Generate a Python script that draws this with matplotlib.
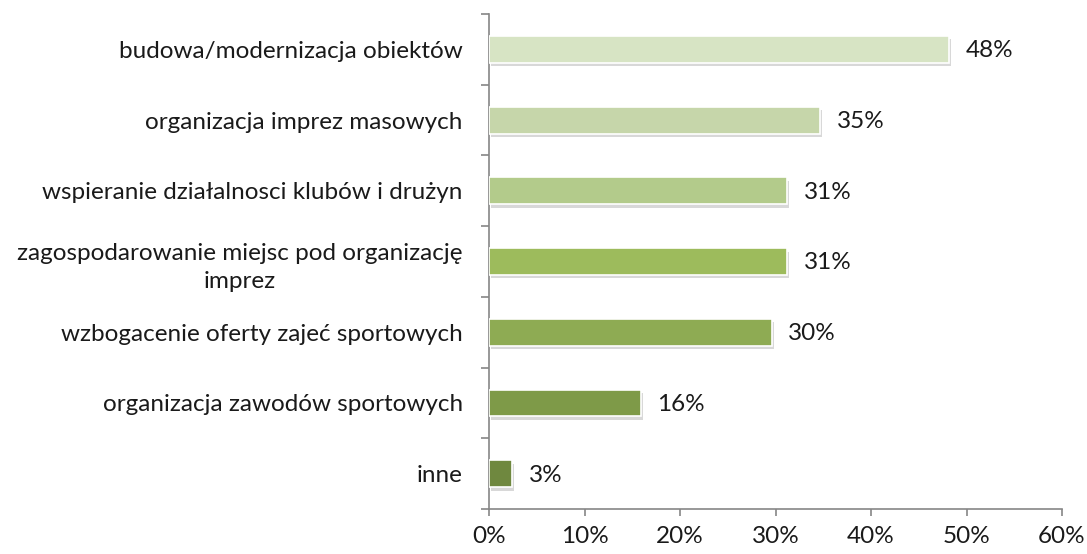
import numpy as np
import matplotlib
matplotlib.use("Agg")
from matplotlib import pyplot as plt
from matplotlib import patheffects as pe
from matplotlib.ticker import FixedLocator, PercentFormatter

plt.rcParams['font.family'] = ['Lato', 'DejaVu Sans']

categories = ['budowa/modernizacja obiektów',
              'organizacja imprez masowych',
              'wspieranie działalnosci klubów i drużyn',
              'zagospodarowanie miejsc pod organizację\nimprez',
              'wzbogacenie oferty zajeć sportowych',
              'organizacja zawodów sportowych',
              'inne']
values = [48.2, 34.7, 31.2, 31.2, 29.6, 15.9, 2.4]
value_labels = ['48%', '35%', '31%', '31%', '30%', '16%', '3%']
colors = ['#d7e4c4', '#c6d6aa', '#b3cb8b', '#9dbb5c', '#8eab53', '#7e9a48', '#6f883f']

fs = 17.5
fig = plt.figure(figsize=(10.87, 5.54), dpi=100)
ax = fig.add_axes([0.4499, 0.0812, 0.977 - 0.4499, 0.9747 - 0.0812])

y = np.arange(len(categories))
bars = ax.barh(y, values, height=0.38, color=colors, edgecolor='white', linewidth=1.2, zorder=3)
for b in bars:
    b.set_path_effects([pe.SimplePatchShadow(offset=(1.5, -2.5), shadow_rgbFace='#7f7f7f', alpha=0.3),
                        pe.Normal()])

for yi, v, lab in zip(y, values, value_labels):
    ax.annotate(lab, (v, yi), xytext=(12, -1), textcoords='offset points',
                va='center', ha='left', fontsize=fs, color='#1a1a1a')

ax.set_xlim(0, 60)
ax.set_ylim(len(categories) - 0.5, -0.5)
ax.set_xticks(np.arange(0, 61, 10))
ax.xaxis.set_major_formatter(PercentFormatter(decimals=0))
ax.yaxis.set_major_locator(FixedLocator(np.arange(-0.5, len(categories), 1.0)))
ax.yaxis.set_major_formatter(plt.NullFormatter())
ax.yaxis.set_minor_locator(FixedLocator(y))
ax.set_yticklabels(categories, minor=True)
for t in ax.get_yticklabels(minor=True):
    t.set_multialignment('center')
    t.set_linespacing(1.45)

ax.tick_params(axis='y', which='major', length=6, color='#868686', width=1.2)
ax.tick_params(axis='y', which='minor', length=0, pad=19, labelsize=fs, labelcolor='#1a1a1a')
ax.tick_params(axis='x', which='major', length=5, color='#868686', width=1.2, pad=7,
               labelsize=fs, labelcolor='#1a1a1a')

for s in ['top', 'right']:
    ax.spines[s].set_visible(False)
for s in ['left', 'bottom']:
    ax.spines[s].set_color('#868686')
    ax.spines[s].set_linewidth(1.2)

fig.savefig('out.png', dpi=100)
